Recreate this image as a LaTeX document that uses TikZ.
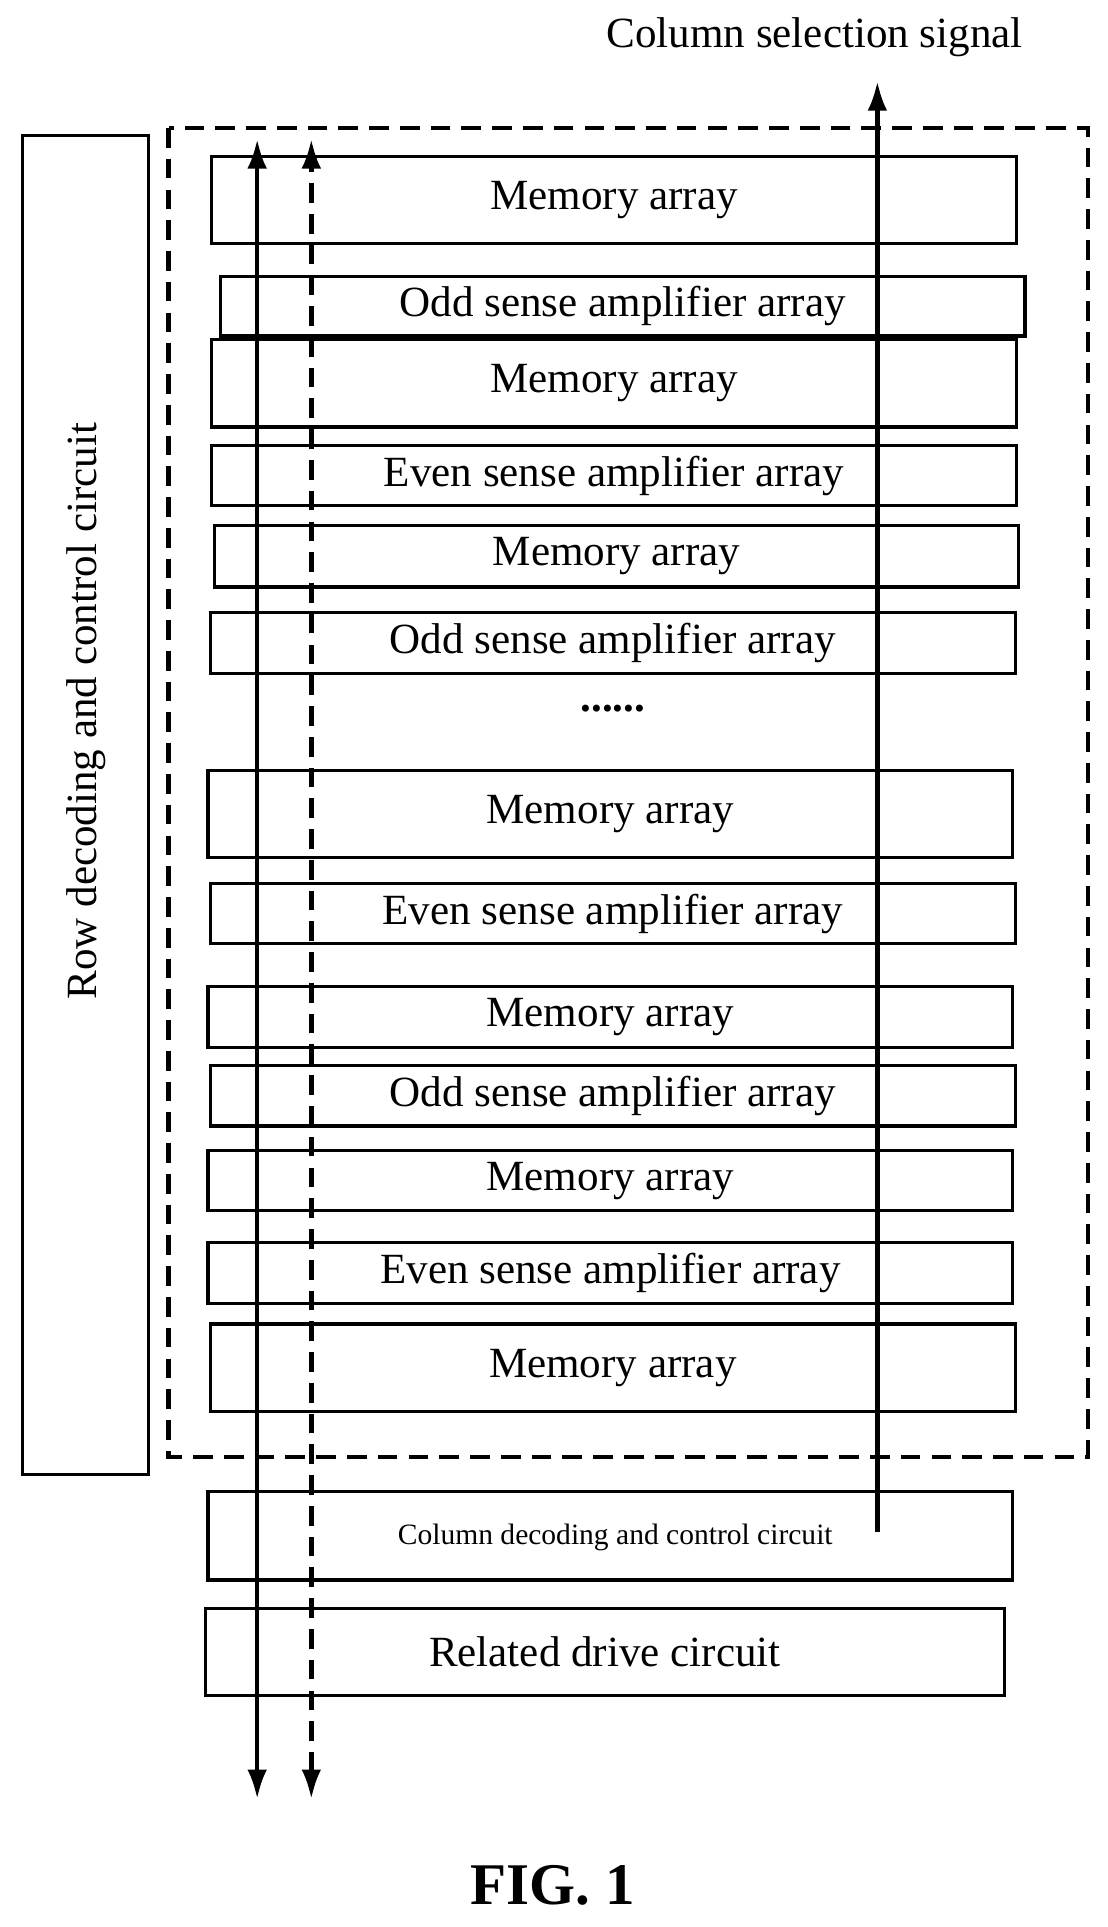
\documentclass[tikz,border=0pt]{standalone}
\usepackage{fontspec}
\setmainfont{Liberation Serif}
\usetikzlibrary{arrows.meta}
\begin{document}
\begin{tikzpicture}[x=1pt,y=-1pt,
  bx/.style={draw,line width=2.6pt},
  lbl/.style={font=\fontsize{35}{38}\selectfont},
  >={Latex[length=24pt,width=16pt]},
  ar/.style={line width=3.6pt}]
\useasboundingbox (0,0) rectangle (900,1566);
\draw[bx] (18,110) rectangle (121,1198);
\node[lbl,rotate=90] (rowt) at (70,578) {Row decoding and control circuit};
\draw[line width=3.6pt,dash pattern=on 16pt off 9pt] (137,104) rectangle (884,1184);
\foreach \n/\xa/\ya/\xb/\yb/\t in {
 m1/172/127/826/198/Memory array,
 o1/179/225/833/273/Odd sense amplifier array,
 m2/172/276/826/347/Memory array,
 e1/172/362/826/411/Even sense amplifier array,
 m3/174/427/828/477/Memory array,
 o2/171/498/825/547/Odd sense amplifier array,
 m4/169/626/823/697/Memory array,
 e2/171/718/825/767/Even sense amplifier array,
 m5/169/802/823/851/Memory array,
 o3/171/866/825/915/Odd sense amplifier array,
 m6/169/935/823/984/Memory array,
 e3/169/1010/823/1059/Even sense amplifier array,
 m7/171/1076/825/1147/Memory array,
 rd/167/1307/816/1378/Related drive circuit}{
  \draw[bx] (\xa,\ya) rectangle (\xb,\yb);
  \node[lbl] (\n) at ({(\xa+\xb)/2},{(\ya+\yb)/2}) {\t};
}
\draw[bx] (169,1212) rectangle (823,1284);
\node[font=\fontsize{24}{26}\selectfont] (cd) at (500,1249) {Column decoding and control circuit};
\node[lbl] (dots) at (498,576) {\textbf{......}};
\coordinate (a1) at (209,1462); \coordinate (a2) at (209,113);
\coordinate (b1) at (253,1462); \coordinate (b2) at (253,113);
\coordinate (c1) at (713,1245); \coordinate (c2) at (713,66);
\draw[ar,<->] (a1) -- (a2);
\draw[ar,<->,dash pattern=on 16pt off 9pt] (b1) -- (b2);
\draw[ar,->] (c1) -- (c2);
\node[lbl] (cs) at (662,30) {Column selection signal};
\node[font=\fontsize{48}{52}\selectfont\bfseries] (fig) at (449,1532) {FIG. 1};
\end{tikzpicture}
\end{document}
